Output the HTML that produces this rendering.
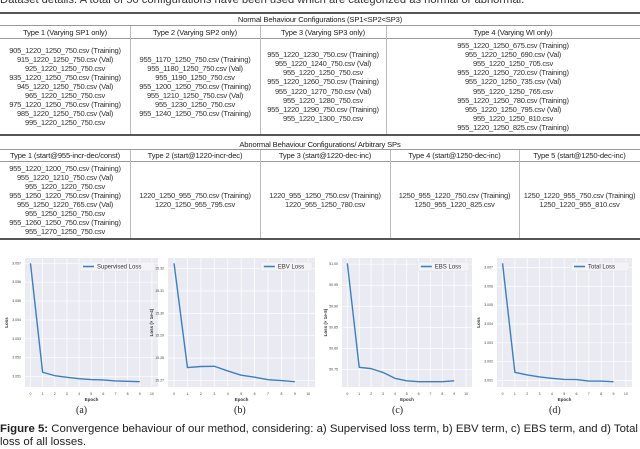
<!DOCTYPE html>
<html><head><meta charset="utf-8">
<style>
body{margin:0;width:640px;height:445px;overflow:hidden;background:#fff;position:relative;font-family:"Liberation Sans",sans-serif;color:#222}
.abs{position:absolute}
.rule{position:absolute;left:0;width:640px;background:#555}
.vs{position:absolute;width:1px;background:#bbb}
.hdr{position:absolute;font-size:7.6px;text-align:center;letter-spacing:-0.15px;white-space:nowrap}
.cell{position:absolute;display:flex;flex-direction:column;justify-content:center;align-items:center;font-size:7.6px;line-height:9.1px;letter-spacing:-0.25px;white-space:nowrap;color:#333}
.sub{position:absolute;font-family:"Liberation Serif",serif;font-size:10px;top:405px}
</style></head><body>
<div class="abs" style="top:-6px;left:0;font-size:11.2px;white-space:nowrap;color:#333">Dataset details. A total of 50 configurations have been used which are categorized as normal or abnormal.</div>

<div class="rule" style="top:12px;height:1.5px"></div>
<div class="hdr" style="top:15px;left:0;width:640px">Normal Behaviour Configurations (SP1&lt;SP2&lt;SP3)</div>
<div class="rule" style="top:25px;height:1px;background:#999"></div>
<div class="hdr" style="top:28px;left:0;width:130px">Type 1 (Varying SP1 only)</div>
<div class="hdr" style="top:28px;left:130px;width:130px">Type 2 (Varying SP2 only)</div>
<div class="hdr" style="top:28px;left:260px;width:126px">Type 3 (Varying SP3 only)</div>
<div class="hdr" style="top:28px;left:386px;width:254px">Type 4 (Varying WI only)</div>
<div class="rule" style="top:38px;height:1px;background:#999"></div>
<div class="vs" style="left:130px;top:26px;height:108px"></div>
<div class="vs" style="left:260px;top:26px;height:108px"></div>
<div class="vs" style="left:386px;top:26px;height:108px"></div>
<div class="cell" style="left:0;width:130px;top:39px;height:95px"><div>905_1220_1250_750.csv (Training)</div><div>915_1220_1250_750.csv (Val)</div><div>925_1220_1250_750.csv</div><div>935_1220_1250_750.csv (Training)</div><div>945_1220_1250_750.csv (Val)</div><div>965_1220_1250_750.csv</div><div>975_1220_1250_750.csv (Training)</div><div>985_1220_1250_750.csv (Val)</div><div>995_1220_1250_750.csv</div></div>
<div class="cell" style="left:130px;width:130px;top:39px;height:95px"><div>955_1170_1250_750.csv (Training)</div><div>955_1180_1250_750.csv (Val)</div><div>955_1190_1250_750.csv</div><div>955_1200_1250_750.csv (Training)</div><div>955_1210_1250_750.csv (Val)</div><div>955_1230_1250_750.csv</div><div>955_1240_1250_750.csv (Training)</div></div>
<div class="cell" style="left:260px;width:126px;top:39px;height:95px"><div>955_1220_1230_750.csv (Training)</div><div>955_1220_1240_750.csv (Val)</div><div>955_1220_1250_750.csv</div><div>955_1220_1260_750.csv (Training)</div><div>955_1220_1270_750.csv (Val)</div><div>955_1220_1280_750.csv</div><div>955_1220_1290_750.csv (Training)</div><div>955_1220_1300_750.csv</div></div>
<div class="cell" style="left:386px;width:254px;top:39px;height:95px"><div>955_1220_1250_675.csv (Training)</div><div>955_1220_1250_690.csv (Val)</div><div>955_1220_1250_705.csv</div><div>955_1220_1250_720.csv (Training)</div><div>955_1220_1250_735.csv (Val)</div><div>955_1220_1250_765.csv</div><div>955_1220_1250_780.csv (Training)</div><div>955_1220_1250_795.csv (Val)</div><div>955_1220_1250_810.csv</div><div>955_1220_1250_825.csv (Training)</div></div>
<div class="rule" style="top:134px;height:1.5px"></div>

<div class="hdr" style="top:140px;left:0;width:640px">Abnormal Behaviour Configurations/ Arbitrary SPs</div>
<div class="rule" style="top:149px;height:1px;background:#999"></div>
<div class="hdr" style="top:151px;left:0;width:130px">Type 1 (start@955-incr-dec/const)</div>
<div class="hdr" style="top:151px;left:130px;width:130px">Type 2 (start@1220-incr-dec)</div>
<div class="hdr" style="top:151px;left:260px;width:130px">Type 3 (start@1220-dec-inc)</div>
<div class="hdr" style="top:151px;left:390px;width:129px">Type 4 (start@1250-dec-inc)</div>
<div class="hdr" style="top:151px;left:519px;width:121px">Type 5 (start@1250-dec-inc)</div>
<div class="rule" style="top:161px;height:1px;background:#999"></div>
<div class="vs" style="left:130px;top:150px;height:88px"></div>
<div class="vs" style="left:260px;top:150px;height:88px"></div>
<div class="vs" style="left:390px;top:150px;height:88px"></div>
<div class="vs" style="left:519px;top:150px;height:88px"></div>
<div class="cell" style="left:0;width:130px;top:162px;height:76px"><div>955_1220_1200_750.csv (Training)</div><div>955_1220_1210_750.csv (Val)</div><div>955_1220_1220_750.csv</div><div>955_1250_1220_750.csv (Training)</div><div>955_1250_1220_765.csv (Val)</div><div>955_1250_1250_750.csv</div><div>955_1260_1250_750.csv (Training)</div><div>955_1270_1250_750.csv</div></div>
<div class="cell" style="left:130px;width:130px;top:162px;height:76px"><div>1220_1250_955_750.csv (Training)</div><div>1220_1250_955_795.csv</div></div>
<div class="cell" style="left:260px;width:130px;top:162px;height:76px"><div>1220_955_1250_750.csv (Training)</div><div>1220_955_1250_780.csv</div></div>
<div class="cell" style="left:390px;width:129px;top:162px;height:76px"><div>1250_955_1220_750.csv (Training)</div><div>1250_955_1220_825.csv</div></div>
<div class="cell" style="left:519px;width:121px;top:162px;height:76px"><div>1250_1220_955_750.csv (Training)</div><div>1250_1220_955_810.csv</div></div>
<div class="rule" style="top:238px;height:1.5px"></div>

<svg id="charts" class="abs" style="left:0;top:0" width="640" height="445"></svg>

<div class="sub" style="left:76px">(a)</div>
<div class="sub" style="left:234px">(b)</div>
<div class="sub" style="left:392px">(c)</div>
<div class="sub" style="left:549px">(d)</div>
<div class="abs" style="top:423px;left:0;font-size:11.4px;white-space:nowrap;color:#222;line-height:13px"><b>Figure 5:</b> Convergence behaviour of our method, considering: a) Supervised loss term, b) EBV term, c) EBS term, and d) Total<br>loss of all losses.</div>

<script>
const epochs=[0,1,2,3,4,5,6,7,8,9];
const xTicks=[0,1,2,3,4,5,6,7,8,9,10];
const supervisedLoss=[3.0570,3.05123,3.05105,3.05096,3.05089,3.05084,3.05082,3.05077,3.05075,3.05073];
const supervisedTicks=[3.051,3.052,3.053,3.054,3.055,3.056,3.057];
const ebvLoss=[15.3224,15.2757,15.2762,15.2763,15.2742,15.2723,15.2714,15.2703,15.2699,15.2694];
const ebvTicks=[15.27,15.28,15.29,15.30,15.31,15.32];
const ebsLoss=[51.002,50.755,50.752,50.743,50.729,50.723,50.721,50.721,50.721,50.723];
const ebsTicks=[50.75,50.80,50.85,50.90,50.95,51.00];
const totalLoss=[3.00723,3.00143,3.00129,3.00118,3.00111,3.00105,3.00104,3.00096,3.00096,3.00093];
const totalTicks=[3.001,3.002,3.003,3.004,3.005,3.006,3.007];

const NS='http://www.w3.org/2000/svg';
const svg=document.getElementById('charts');
function mk(tag,attrs,parent){const e=document.createElementNS(NS,tag);for(const k in attrs)e.setAttribute(k,attrs[k]);(parent||svg).appendChild(e);return e;}
function panel(id,px,py,pw,ph,vals,ticks,label,ylab,dec){
  const g=mk('g',{});
  
  
  const vmax=Math.max(...vals), vmin=Math.min(...vals);
  const lo=Math.min(vmin,ticks[0])-(vmax-vmin)*0.045, hi=vmax+(vmax-vmin)*0.045;
  const xs=v=>px+(v+0.45)/10.95*pw;
  const ys=v=>py+ph-(v-lo)/(hi-lo)*ph;
  const bg=mk('rect',{x:px,y:py,width:pw,height:ph,fill:'#eaeaf2'},g);
  
  
  xTicks.forEach(t=>{
    mk('line',{x1:xs(t),x2:xs(t),y1:py,y2:py+ph,stroke:'#fff','stroke-width':0.7},g);
    const tx=mk('text',{x:xs(t),y:py+ph+8,'font-size':3.5,'text-anchor':'middle',fill:'#444'},g);
    tx.textContent=t;
    
    
  });
  ticks.forEach(t=>{
    if(ys(t)<py||ys(t)>py+ph)return;
    mk('line',{x1:px,x2:px+pw,y1:ys(t),y2:ys(t),stroke:'#fff','stroke-width':0.7},g);
    const tx=mk('text',{x:px-4,y:ys(t)+1,'font-size':3.5,'text-anchor':'end',fill:'#444'},g);
    tx.textContent=t.toFixed(dec);
    
    
  });
  const xl=mk('text',{x:px+pw/2,y:py+ph+14,'font-size':4.5,'font-weight':'bold','text-anchor':'middle',fill:'#333'},g);
  xl.textContent='Epoch';
  
  
  const yx=px-(dec>=3?17:15), yy=py+ph/2;
  const yl=mk('text',{x:yx,y:yy,'font-size':4.5,'font-weight':'bold','text-anchor':'middle',fill:'#333',transform:`rotate(-90 ${yx} ${yy})`},g);
  yl.textContent=ylab;
  
  
  const pts=vals.map((v,i)=>xs(epochs[i])+','+ys(v)).join(' ');
  const ln=mk('polyline',{points:pts,fill:'none',stroke:'#3b7fbf','stroke-width':1.4,'stroke-linejoin':'round'},g);
  
  
  const lw=label.length*3.4+24, lx=px+pw-lw-3, ly=py+4;
  const lg=mk('g',{},g);
  
  
  mk('rect',{x:lx,y:ly,width:lw,height:9,fill:'#f4f4f8',stroke:'#ddd','stroke-width':0.4,rx:1},lg);
  mk('line',{x1:lx+3,x2:lx+14,y1:ly+4.5,y2:ly+4.5,stroke:'#3b7fbf','stroke-width':1.6},lg);
  const lt=mk('text',{x:lx+17,y:ly+6.6,'font-size':6,fill:'#333'},lg);
  lt.textContent=label;
}
panel('supervised',25,258,133,129,supervisedLoss,supervisedTicks,'Supervised Loss','Loss',3);
panel('ebv',168,258,147,129,ebvLoss,ebvTicks,'EBV Loss','Loss (× 1e-4)',2);
panel('ebs',342,258,130,129,ebsLoss,ebsTicks,'EBS Loss','Loss (× 1e-5)',2);
panel('total',497,258,135,129,totalLoss,totalTicks,'Total Loss','Loss',3);
</script>
</body></html>
